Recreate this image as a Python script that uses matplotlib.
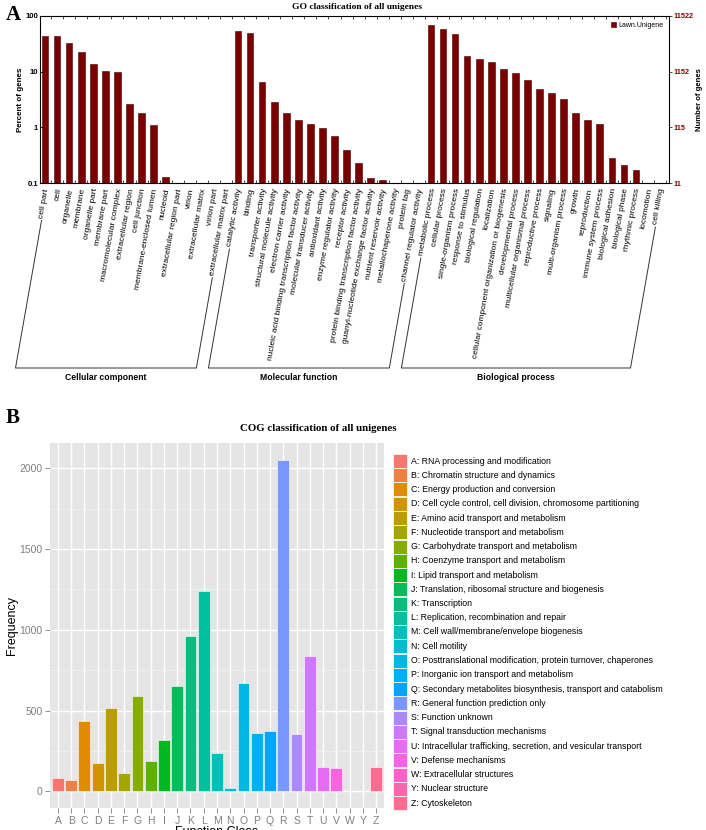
import numpy as np
import matplotlib
matplotlib.use("Agg")
import matplotlib.pyplot as plt
from matplotlib.lines import Line2D
from matplotlib.patches import Rectangle
import matplotlib.transforms as mtransforms

# ---------------- data: panel A (GO) ----------------
cc_terms = ["cell part", "cell", "organelle", "membrane", "organelle part", "membrane part",
            "macromolecular complex", "extracellular region", "cell junction",
            "membrane-enclosed lumen", "nucleoid", "extracellular region part", "virion",
            "extracellular matrix", "virion part", "extracellular matrix part"]
cc_vals = [43.8, 43.6, 33.0, 22.5, 13.9, 10.2, 9.7, 2.6, 1.78, 1.09, 0.13, 0, 0, 0, 0, 0]

mf_terms = ["catalytic activity", "binding", "transporter activity", "structural molecule activity",
            "electron carrier activity", "nucleic acid binding transcription factor activity",
            "molecular transducer activity", "antioxidant activity", "enzyme regulator activity",
            "receptor activity", "protein binding transcription factor activity",
            "guanyl-nucleotide exchange factor activity", "nutrient reservoir activity",
            "metallochaperone activity", "protein tag", "channel regulator activity"]
mf_vals = [53.7, 48.7, 6.4, 2.8, 1.81, 1.34, 1.16, 0.96, 0.69, 0.39, 0.23, 0.121, 0.112, 0, 0, 0]

bp_terms = ["metabolic process", "cellular process", "single-organism process", "response to stimulus",
            "biological regulation", "localization", "cellular component organization or biogenesis",
            "developmental process", "multicellular organismal process", "reproductive process",
            "signaling", "multi-organism process", "growth", "reproduction", "immune system process",
            "biological adhesion", "biological phase", "rhythmic process", "locomotion", "cell killing"]
bp_vals = [69.0, 57.5, 46.8, 19.3, 16.6, 14.7, 11.2, 9.4, 7.1, 4.8, 4.1, 3.2, 1.83, 1.37, 1.15,
           0.285, 0.208, 0.171, 0, 0]

group_names = ["Cellular component", "Molecular function", "Biological process"]
total_genes = 11522
series_name = "Lawn.Unigene"

# ---------------- data: panel B (COG) ----------------
cog_codes = ["A", "B", "C", "D", "E", "F", "G", "H", "I", "J", "K", "L", "M", "N", "O", "P", "Q",
             "R", "S", "T", "U", "V", "W", "Y", "Z"]
cog_freq = [80, 70, 438, 174, 514, 116, 589, 190, 320, 655, 963, 1240, 240, 21, 671, 364, 374,
            2054, 355, 841, 151, 143, 2, 1, 149]
cog_desc = ["RNA processing and modification", "Chromatin structure and dynamics",
            "Energy production and conversion",
            "Cell cycle control, cell division, chromosome partitioning",
            "Amino acid transport and metabolism", "Nucleotide transport and metabolism",
            "Carbohydrate transport and metabolism", "Coenzyme transport and metabolism",
            "Lipid transport and metabolism", "Translation, ribosomal structure and biogenesis",
            "Transcription", "Replication, recombination and repair",
            "Cell wall/membrane/envelope biogenesis", "Cell motility",
            "Posttranslational modification, protein turnover, chaperones",
            "Inorganic ion transport and metabolism",
            "Secondary metabolites biosynthesis, transport and catabolism",
            "General function prediction only", "Function unknown",
            "Signal transduction mechanisms",
            "Intracellular trafficking, secretion, and vesicular transport",
            "Defense mechanisms", "Extracellular structures", "Nuclear structure", "Cytoskeleton"]


def hcl_to_hex(h, c=100.0, l=65.0):
    Xn, Yn, Zn = 95.047, 100.0, 108.883
    den = Xn + 15 * Yn + 3 * Zn
    un, vn = 4 * Xn / den, 9 * Yn / den
    hr = np.deg2rad(h)
    U, V = c * np.cos(hr), c * np.sin(hr)
    Y = Yn * ((l + 16) / 116) ** 3
    up = U / (13 * l) + un
    vp = V / (13 * l) + vn
    X = Y * 9 * up / (4 * vp)
    Z = Y * (12 - 3 * up - 20 * vp) / (4 * vp)
    X, Y, Z = X / 100, Y / 100, Z / 100
    rgb = np.array([3.240479 * X - 1.537150 * Y - 0.498535 * Z,
                    -0.969256 * X + 1.875992 * Y + 0.041556 * Z,
                    0.055648 * X - 0.204043 * Y + 1.057311 * Z])
    rgb = np.where(rgb <= 0.0031308, 12.92 * rgb, 1.055 * np.abs(rgb) ** (1 / 2.4) - 0.055)
    rgb = np.clip(rgb, 0, 1)
    return matplotlib.colors.to_hex(rgb)


W, H = 706, 830
DPI = 100
fig = plt.figure(figsize=(W / DPI, H / DPI), dpi=DPI)
fig.patch.set_facecolor("white")

SANS = ["Liberation Sans", "DejaVu Sans"]
NARROW = ["Liberation Sans Narrow", "Liberation Sans", "DejaVu Sans"]
SERIF = ["Liberation Serif", "DejaVu Serif"]


def fx(px):
    return px / W


def fy(py):
    return 1 - py / H


# ======================= Panel A =======================
terms = cc_terms + mf_terms + bp_terms
vals = cc_vals + mf_vals + bp_vals
groups = [cc_terms, mf_terms, bp_terms]
x = np.arange(len(terms))
bar_color = "#7a0000"

axA = fig.add_axes([fx(40), fy(183), (669 - 40) / W, (183 - 16) / H])
axA.set_yscale("log")
bars = axA.bar(x, vals, width=0.55, color=bar_color, edgecolor="#4a0000", linewidth=0.4,
               label=series_name)
axA.set_ylim(0.1, 100)
axA.set_xlim(-0.42, len(terms) - 0.26)
axA.set_yticks([0.1, 1, 10, 100])
axA.set_yticklabels(["0.1", "1", "10", "100"], fontfamily=NARROW, fontsize=5.6,
                    fontweight="bold")
axA.yaxis.set_minor_locator(matplotlib.ticker.NullLocator())
axA.tick_params(axis="y", which="major", direction="in", length=2, pad=1.5, width=0.6)
axA.set_xticks(x + 0.5, minor=True)
axA.set_xticks([])
axA.tick_params(axis="x", which="minor", direction="in", length=2, width=0.5, top=True,
                bottom=True, labelbottom=False)
for s in axA.spines.values():
    s.set_linewidth(0.7)
axA.set_ylabel("Percent of genes", fontfamily=NARROW, fontsize=5.8, fontweight="bold",
               labelpad=1)

ax2 = axA.twinx()
ax2.set_yscale("log")
ax2.set_ylim(total_genes * 0.001, total_genes * 1.0)
rticks = [total_genes * f for f in (0.001, 0.01, 0.1, 1.0)]
ax2.set_yticks(rticks)
ax2.set_yticklabels([str(int(t)) for t in rticks], fontfamily=NARROW, fontsize=5.2,
                    fontweight="bold", color="#8b0000")
ax2.yaxis.set_minor_locator(matplotlib.ticker.NullLocator())
ax2.tick_params(axis="y", direction="out", length=2.0, width=0.6, color="#8b0000", pad=1)
ax2.set_ylabel("Number of genes", fontfamily=NARROW, fontsize=5.6, fontweight="bold",
               labelpad=2)

axA.legend(handles=[bars], labels=[series_name], loc="upper right", frameon=False,
           prop={"family": SANS, "size": 5.0}, handlelength=0.7, handleheight=0.7,
           handletextpad=0.4, borderaxespad=0.4)

fig.text(fx(357), fy(7), "GO classification of all unigenes", ha="center", va="center",
         fontfamily=SERIF, fontweight="bold", fontsize=6.8)
fig.text(fx(13), fy(15), "A", ha="center", va="center", fontfamily=SERIF,
         fontweight="bold", fontsize=15)

ROT = 80.0
off_pt = (1.5, -4.0)
annots = []
for i, t in enumerate(terms):
    a = axA.annotate(t, xy=(i, 0), xycoords=("data", "axes fraction"), xytext=off_pt,
                     textcoords="offset points", rotation=ROT, ha="right", va="center",
                     rotation_mode="anchor", fontfamily=SANS, fontsize=6.0)
    annots.append(a)

fig.canvas.draw()
renderer = fig.canvas.get_renderer()
c, s = np.cos(np.deg2rad(ROT)), np.sin(np.deg2rad(ROT))
d = np.array([c, s])
blend = mtransforms.blended_transform_factory(axA.transData, axA.transAxes)
y_bottom = (H - 368) * fig.dpi / DPI
inv = fig.transFigure.inverted()


def label_start(i):
    bb = annots[i].get_window_extent(renderer)
    wtxt = (s * bb.height - c * bb.width) / (s * s - c * c)
    A = blend.transform((i, 0)) + np.array(off_pt) * fig.dpi / 72.0
    return A - wtxt * d


start = 0
for gi, g in enumerate(groups):
    i0, i1 = start, start + len(g) - 1
    start += len(g)
    pts = []
    for idx in (i0, i1):
        S = label_start(idx) - 2.5 * d
        tt = (S[1] - y_bottom) / s
        P = S - tt * d
        pts.append((S, P))
    (S0, P0), (S1, P1) = pts
    poly = np.array([S0, P0, P1, S1])
    pf = inv.transform(poly)
    fig.add_artist(Line2D(pf[:, 0], pf[:, 1], color="#333333", lw=0.7,
                          transform=fig.transFigure))
    cx = inv.transform([((P0[0] + P1[0]) / 2, y_bottom)])[0][0]
    fig.text(cx, fy(377), group_names[gi], ha="center", va="center", fontfamily=NARROW,
             fontweight="bold", fontsize=6.2)

# ======================= Panel B =======================
cols = [hcl_to_hex(h) for h in np.linspace(15, 375, len(cog_codes) + 1)[:-1]]
axB = fig.add_axes([fx(50), fy(808), (384 - 50) / W, (808 - 443) / H])
axB.set_facecolor("#E5E5E5")
xb = np.arange(len(cog_codes))
ymax = max(cog_freq)
axB.set_xlim(-0.6, len(cog_codes) - 0.4)
axB.set_ylim(-0.05 * ymax, 1.05 * ymax)
axB.set_axisbelow(True)
axB.set_yticks([0, 500, 1000, 1500, 2000])
axB.set_yticks([250, 750, 1250, 1750], minor=True)
axB.set_xticks(xb)
axB.set_xticklabels(cog_codes)
axB.grid(which="major", color="white", lw=1.0)
axB.grid(which="minor", axis="y", color="#F2F2F2", lw=0.5)
axB.bar(xb, cog_freq, width=0.9, color=cols, edgecolor="white", linewidth=0.4)
for sp in axB.spines.values():
    sp.set_visible(False)
axB.tick_params(axis="both", which="major", colors="#7F7F7F", length=3.5, width=0.6,
                labelsize=7.5, pad=2)
axB.tick_params(axis="both", which="minor", length=0)
for lab in axB.get_xticklabels() + axB.get_yticklabels():
    lab.set_fontfamily(SANS)
axB.set_ylabel("Frequency", fontfamily=SANS, fontsize=9, labelpad=1)
fig.text(fx(217), fy(826), "Function Class", ha="center", va="top", fontfamily=SANS,
         fontsize=9)

fig.text(fx(318), fy(428), "COG classification of all unigenes", ha="center", va="center",
         fontfamily=SERIF, fontweight="bold", fontsize=7.8)
fig.text(fx(13), fy(418), "B", ha="center", va="center", fontfamily=SERIF,
         fontweight="bold", fontsize=15)

# legend for panel B
for i, (code, desc) in enumerate(zip(cog_codes, cog_desc)):
    cy = 461 + i * 14.25
    fig.add_artist(Rectangle((fx(393), fy(cy + 7)), 14 / W, 14 / H, facecolor=cols[i],
                             edgecolor="white", linewidth=0.5, transform=fig.transFigure))
    fig.text(fx(411), fy(cy), f"{code}: {desc}", ha="left", va="center", fontfamily=SANS,
             fontsize=6.3)

fig.savefig("out.png", dpi=DPI, facecolor="white")
